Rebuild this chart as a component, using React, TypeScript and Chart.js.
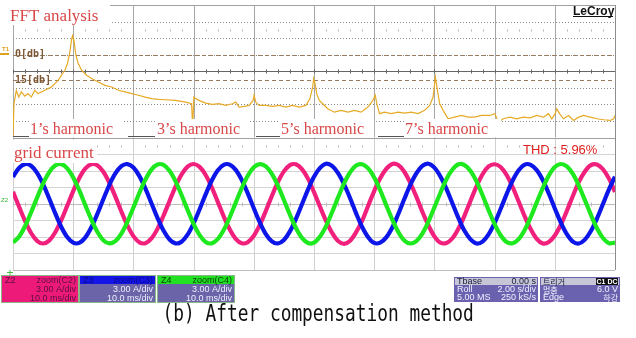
import React, { useEffect, useRef } from "react";
import { Chart, registerables } from "chart.js";
Chart.register(...registerables);

// ---- FFT trace (frequency in Hz, level in dB) ----
const fftFreq = [
  0, 1, 3.3, 5.7, 8.3, 11.7, 15, 18.3, 21.7, 25,
  28.3, 31.7, 35, 38.3, 41.7, 45, 48.3, 51.7, 54.3, 56.7,
  58.3, 59.3, 60.7, 62.7, 65, 68.3, 73.3, 78.3, 85, 91.7,
  98.3, 105, 111.7, 118.3, 125, 131.7, 138.3, 145, 152, 162,
  172, 178, 178.7, 179.3, 180.3, 182, 185.3, 192, 198.7, 205.3,
  212, 218.7, 222, 225.3, 230.3, 235.3, 239.3, 240.3, 242, 245.3,
  252, 258.7, 265.3, 272, 278.7, 285.3, 292, 296, 298.7, 299.7,
  301, 302.7, 305.3, 308.7, 313.7, 320.3, 327, 333.7, 340.3, 347,
  353.7, 358.7, 361, 363, 365.3, 370.3, 377, 383.7, 390.3, 397,
  403.7, 410.3, 415.3, 418.7, 421, 423, 425.3, 428.7, 433.7, 440.3,
  447, 453.7, 460.3, 467, 475.3, 480.3, 483.7, 488.7, 495.3, 502,
  508.7, 515.3, 522, 528.7, 533.7, 537, 540.3, 542, 544.7, 548.7,
  553.7, 558.7, 563.7, 568.7, 575.3, 582, 588.7, 595.3, 598.7, 600,
];
const fftDb = [
  -49.4, -29.6, -21.5, -25.6, -22.5, -25.0, -23.5, -25.6, -21.5, -23.5,
  -22.5, -21.5, -20.5, -19.5, -17.5, -15.5, -12.4, -9.4, -5.3, 1.7,
  8.8, 11.4, 8.8, -0.3, -5.3, -9.4, -12.4, -14.4, -16.5, -18.5,
  -19.5, -21.5, -22.5, -23.5, -24.5, -25.6, -26.5, -27.0, -27.2, -27.6,
  -28.6, -29.6, -38.7, -39.7, -25.6, -26.5, -27.6, -29.2, -30.0, -29.6,
  -30.6, -29.6, -28.6, -31.6, -31.2, -30.6, -27.6, -24.5, -28.6, -30.6,
  -30.6, -31.2, -30.6, -31.6, -30.6, -31.6, -30.6, -26.5, -19.5, -14.4,
  -17.5, -23.5, -27.6, -29.6, -32.6, -34.7, -33.6, -34.7, -33.6, -34.7,
  -31.6, -27.6, -24.5, -30.6, -35.6, -34.7, -35.6, -34.7, -35.3, -34.7,
  -35.6, -33.6, -30.6, -25.6, -13.5, -21.5, -29.6, -33.6, -38.7, -37.7,
  -36.7, -37.7, -37.7, -36.7, -36.7, -35.6, -40.7, -38.7, -37.7, -38.7,
  -37.7, -38.1, -36.7, -37.7, -35.6, -38.7, -35.6, -32.6, -35.6, -38.7,
  -36.7, -39.7, -37.7, -36.7, -37.7, -38.7, -39.3, -39.7, -38.7, -36.7,
];

// ---- grid current (time in ms, current in A) ----
const timeMs = [
  0, 1, 2, 3, 4, 5, 6, 7, 8, 9, 10, 11, 12, 13, 14, 15, 16, 17, 18, 19,
  20, 21, 22, 23, 24, 25, 26, 27, 28, 29, 30, 31, 32, 33, 34, 35, 36, 37, 38, 39,
  40, 41, 42, 43, 44, 45, 46, 47, 48, 49, 50, 51, 52, 53, 54, 55, 56, 57, 58, 59,
  60, 61, 62, 63, 64, 65, 66, 67, 68, 69, 70, 71, 72, 73, 74, 75, 76, 77, 78, 79,
  80, 81, 82, 83, 84, 85, 86, 87, 88, 89, 90, 91, 92, 93, 94, 95, 96, 97, 98, 99, 100,
];
const currentC2 = [
  2.17, -0.51, -3.12, -5.30, -6.71, -7.20, -6.67, -5.21, -3.01, -0.39,
  2.29, 4.63, 6.34, 7.15, 6.96, 5.79, 3.80, 1.29, -1.41, -3.91,
  -5.86, -6.99, -7.14, -6.28, -4.55, -2.17, 0.51, 3.12, 5.30, 6.71,
  7.20, 6.67, 5.21, 3.01, 0.39, -2.29, -4.63, -6.34, -7.15, -6.96,
  -5.79, -3.80, -1.29, 1.41, 3.91, 5.86, 6.99, 7.14, 6.28, 4.55,
  2.10, -0.55, -3.10, -5.25, -6.75, -7.25, -6.70, -5.15, -3.05, -0.35,
  2.30, 4.60, 6.30, 7.20, 7.00, 5.80, 3.75, 1.30, -1.45, -3.90,
  -5.90, -7.05, -7.10, -6.25, -4.50, -2.15, 0.55, 3.15, 5.35, 6.75,
  7.15, 6.65, 5.20, 3.00, 0.40, -2.30, -4.60, -6.35, -7.20, -6.95,
  -5.75, -3.80, -1.30, 1.40, 3.95, 5.85, 7.00, 7.10, 6.25, 4.55, 2.15,
];
const currentC3 = [
  4.86, 6.47, 7.18, 6.88, 5.60, 3.55, 0.99, -1.70, -4.16, -6.03,
  -7.06, -7.09, -6.13, -4.31, -1.88, 0.81, 3.39, 5.49, 6.82, 7.19,
  6.55, 5.00, 2.74, 0.09, -2.56, -4.86, -6.47, -7.18, -6.88, -5.60,
  -3.55, -0.99, 1.70, 4.16, 6.03, 7.06, 7.09, 6.13, 4.31, 1.88,
  -0.81, -3.39, -5.49, -6.82, -7.19, -6.55, -5.00, -2.74, -0.09, 2.56,
  4.90, 6.50, 7.25, 6.85, 5.55, 3.50, 1.00, -1.75, -4.20, -6.05,
  -7.10, -7.05, -6.10, -4.30, -1.85, 0.85, 3.40, 5.50, 6.85, 7.25,
  6.55, 4.95, 2.70, 0.05, -2.60, -4.90, -6.45, -7.20, -6.85, -5.55,
  -3.50, -0.95, 1.75, 4.20, 6.05, 7.10, 7.05, 6.10, 4.30, 1.85,
  -0.85, -3.40, -5.50, -6.85, -7.20, -6.50, -4.95, -2.70, -0.05, 2.60, 4.90,
];
const currentC4 = [
  -7.03, -5.96, -4.06, -1.58, 1.11, 3.65, 5.68, 6.91, 7.17, 6.42,
  4.77, 2.46, -0.21, -2.84, -5.08, -6.60, -7.19, -6.78, -5.41, -3.28,
  -0.69, 1.99, 4.40, 6.19, 7.11, 7.03, 5.96, 4.06, 1.58, -1.11,
  -3.65, -5.68, -6.91, -7.17, -6.42, -4.77, -2.46, 0.21, 2.84, 5.08,
  6.60, 7.19, 6.78, 5.41, 3.28, 0.69, -1.99, -4.40, -6.19, -7.11,
  -7.05, -5.95, -4.05, -1.55, 1.15, 3.70, 5.70, 6.95, 7.15, 6.40,
  4.75, 2.45, -0.25, -2.85, -5.10, -6.65, -7.20, -6.75, -5.40, -3.25,
  -0.65, 2.00, 4.45, 6.20, 7.15, 7.00, 5.95, 4.05, 1.55, -1.15,
  -3.70, -5.70, -6.95, -7.15, -6.40, -4.75, -2.45, 0.25, 2.85, 5.10,
  6.65, 7.20, 6.75, 5.40, 3.25, 0.65, -2.00, -4.45, -6.20, -7.15, -7.05,
];

const harmonicLabels = ["1\u2019s harmonic", "3\u2019s harmonic", "5\u2019s harmonic", "7\u2019s harmonic"];
const titleFft = "FFT analysis";
const titleCurrent = "grid current";
const thdText = "THD : 5.96%";
const captionText = "(b) After compensation method";

const W = 636;
const H = 338;

const gridPlugin = {
  id: "scopeGrid",
  beforeDatasetsDraw(chart: any) {
    const { ctx, chartArea: a, scales } = chart;
    const xT = scales.xT;
    const yF = scales.yF;
    const yI = scales.yI;
    const mid = yF.getPixelForValue(-50);
    const snap = (v: number) => Math.round(v) + 0.5;
    ctx.save();
    ctx.fillStyle = "#ffffff";
    ctx.fillRect(a.left, a.top, a.right - a.left, a.bottom - a.top);
    ctx.lineWidth = 1;
    for (let k = 0; k <= 10; k++) {
      const x = snap(xT.getPixelForValue(k * 10));
      ctx.strokeStyle = "#a6a6a6";
      ctx.beginPath(); ctx.moveTo(x, a.top); ctx.lineTo(x, mid); ctx.stroke();
      ctx.strokeStyle = "#d0d0d0";
      ctx.beginPath(); ctx.moveTo(x, mid); ctx.lineTo(x, a.bottom); ctx.stroke();
    }
    const divW = (xT.getPixelForValue(10) - xT.getPixelForValue(0)) / 5;
    for (let j = 1; j < 8; j++) {
      const y = snap(yF.getPixelForValue(30 - 10 * j));
      if (j === 4) {
        ctx.setLineDash([]);
        ctx.strokeStyle = "#666666";
        ctx.beginPath(); ctx.moveTo(a.left, y); ctx.lineTo(a.right, y); ctx.stroke();
        for (let m = 0; m <= 50; m++) {
          const x = snap(a.left + m * divW);
          ctx.beginPath(); ctx.moveTo(x, y - 2); ctx.lineTo(x, y + 2); ctx.stroke();
        }
      } else {
        ctx.setLineDash([1, 2]);
        ctx.strokeStyle = "#8a8a8a";
        ctx.beginPath(); ctx.moveTo(a.left, y); ctx.lineTo(a.right, y); ctx.stroke();
      }
    }
    ctx.setLineDash([]);
    ctx.strokeStyle = "#b5b5b5";
    [15, -55].forEach((v) => {
      const y = snap(yF.getPixelForValue(v));
      for (let m = 1; m < 50; m++) {
        if (m % 5 === 0) continue;
        const x = snap(a.left + m * divW);
        ctx.beginPath(); ctx.moveTo(x, y - 1); ctx.lineTo(x, y + 1); ctx.stroke();
      }
    });
    ctx.setLineDash([4, 3]);
    ctx.strokeStyle = "#9a7a5c";
    [0, -15].forEach((v) => {
      const y = snap(yF.getPixelForValue(v));
      ctx.beginPath(); ctx.moveTo(a.left, y); ctx.lineTo(a.right, y); ctx.stroke();
    });
    ctx.setLineDash([]);
    for (let j = 1; j < 8; j++) {
      const y = snap(yI.getPixelForValue(12 - 3 * j));
      ctx.strokeStyle = j === 4 ? "#bdbdbd" : "#d4d4d4";
      ctx.beginPath(); ctx.moveTo(a.left, y); ctx.lineTo(a.right, y); ctx.stroke();
      if (j === 4) {
        for (let m = 0; m <= 50; m++) {
          const x = snap(a.left + m * divW);
          ctx.beginPath(); ctx.moveTo(x, y - 2); ctx.lineTo(x, y + 2); ctx.stroke();
        }
      }
    }
    ctx.strokeStyle = "#a0a0a0";
    const yt = snap(a.top), yb = snap(a.bottom), ym = snap(mid);
    ctx.beginPath(); ctx.moveTo(a.left, yt); ctx.lineTo(a.right, yt); ctx.stroke();
    ctx.beginPath(); ctx.moveTo(a.left, ym); ctx.lineTo(a.right, ym); ctx.stroke();
    ctx.strokeStyle = "#bdbdbd";
    ctx.beginPath(); ctx.moveTo(a.left, yb); ctx.lineTo(a.right, yb); ctx.stroke();
    ctx.strokeStyle = "#8c8c8c";
    const xr = snap(a.right);
    ctx.beginPath(); ctx.moveTo(xr, a.top); ctx.lineTo(xr, a.bottom); ctx.stroke();
    ctx.restore();
  },
};

function drawText(ctx: CanvasRenderingContext2D, s: string, x: number, y: number, font: string, color: string, align: CanvasTextAlign = "left") {
  ctx.font = font;
  ctx.fillStyle = color;
  ctx.textAlign = align;
  ctx.textBaseline = "alphabetic";
  ctx.fillText(s, x, y);
}

const decoPlugin = {
  id: "scopeDeco",
  afterDatasetsDraw(chart: any) {
    const ctx: CanvasRenderingContext2D = chart.ctx;
    const serif = '"Liberation Serif", "Times New Roman", serif';
    const sans = '"Liberation Sans", Arial, sans-serif';
    const red = "#d94848";
    ctx.save();
    ctx.fillStyle = "#ffffff";
    ctx.fillRect(8, 3, 102, 22);
    drawText(ctx, titleFft, 10, 21, `17px ${serif}`, red);
    drawText(ctx, "0[db]", 15, 57, 'bold 10px "DejaVu Sans Mono", monospace', "#7b5532");
    drawText(ctx, "15[db]", 15, 83, 'bold 10px "DejaVu Sans Mono", monospace', "#7b5532");
    ctx.fillStyle = "#e0a020";
    ctx.fillRect(0, 53, 9, 2);
    drawText(ctx, "T1", 2, 51, `bold 6px ${sans}`, "#e0a020");
    const lineX = [[13, 29], [128, 155], [256, 280], [378, 404]];
    const textX = [30, 157, 281, 405];
    harmonicLabels.forEach((s, i) => {
      ctx.font = `16px ${serif}`;
      const w = ctx.measureText(s).width;
      ctx.fillStyle = "#ffffff";
      ctx.fillRect(textX[i] - 1, 119, w + (i === 3 ? 14 : 11), 18);
      ctx.strokeStyle = "#555555";
      ctx.lineWidth = 1;
      ctx.beginPath(); ctx.moveTo(lineX[i][0], 136.5); ctx.lineTo(lineX[i][1], 136.5); ctx.stroke();
      drawText(ctx, s, textX[i], 134, `16px ${serif}`, red);
    });
    ctx.fillStyle = "#ffffff";
    ctx.fillRect(8, 140, 89, 23);
    drawText(ctx, titleCurrent, 14, 158, `17px ${serif}`, red);
    drawText(ctx, thdText, 523, 154, `13px ${sans}`, "#e02020");
    drawText(ctx, "LeCroy", 573, 15, `bold 12px ${sans}`, "#111111");
    ctx.fillStyle = "#111111";
    ctx.fillRect(573, 16, 40, 1);
    drawText(ctx, "Z2", 1, 202, `6px ${sans}`, "#30b030");
    ctx.fillStyle = "#40c040";
    ctx.fillRect(7, 272, 6, 1);
    ctx.fillRect(9.5, 270, 1, 5);

    const f9 = `9px ${sans}`;
    const box = (x: number, w: number, head: string, headTxt: string, body: string, bodyTxt: string, l: string, r: string, a2: string, a3: string) => {
      ctx.fillStyle = "#88b888";
      ctx.fillRect(x - 1, 275, w + 2, 28);
      ctx.fillStyle = head;
      ctx.fillRect(x, 276, w, 8);
      ctx.fillStyle = body;
      ctx.fillRect(x, 284, w, 18);
      drawText(ctx, l, x + 3, 283, f9, headTxt);
      drawText(ctx, r, x + w - 2, 283, f9, headTxt, "right");
      drawText(ctx, a2, x + w - 2, 292, f9, bodyTxt, "right");
      drawText(ctx, a3, x + w - 2, 301, f9, bodyTxt, "right");
    };
    box(2, 76, "#ee1a7a", "#5a1040", "#ee1a7a", "#5a1040", "Z2", "zoom(C2)", "3.00 A/div", "10.0 ms/div");
    box(80, 75, "#1414e6", "#0a0a8a", "#6c64a8", "#eeeeff", "Z3", "zoom(C3)", "3.00 A/div", "10.0 ms/div");
    box(158, 76, "#22e022", "#0a400a", "#6c64a8", "#eeeeff", "Z4", "zoom(C4)", "3.00 A/div", "10.0 ms/div");

    ctx.fillStyle = "#6a62ae";
    ctx.fillRect(454, 277, 84, 25);
    ctx.fillStyle = "#c6c6d6";
    ctx.fillRect(455, 278, 82, 7);
    drawText(ctx, "Tbase", 457, 284, f9, "#202040");
    drawText(ctx, "0.00 s", 536, 284, f9, "#202040", "right");
    drawText(ctx, "Roll", 457, 292, f9, "#f0f0ff");
    drawText(ctx, "2.00 s/div", 536, 292, f9, "#f0f0ff", "right");
    drawText(ctx, "5.00 MS", 457, 300, f9, "#f0f0ff");
    drawText(ctx, "250 kS/s", 536, 300, f9, "#f0f0ff", "right");
    const kr = '"Noto Sans CJK KR", sans-serif';
    ctx.fillStyle = "#6a62ae";
    ctx.fillRect(540, 277, 80, 25);
    ctx.fillStyle = "#c6c6d6";
    ctx.fillRect(541, 278, 78, 7);
    drawText(ctx, "\ud2b8\ub9ac\uac70", 543, 284.5, `8px ${kr}`, "#202040");
    ctx.fillStyle = "#111111";
    ctx.fillRect(596, 278, 22, 7);
    drawText(ctx, "C1 DC", 607, 284, `bold 7px ${sans}`, "#ffffff", "center");
    drawText(ctx, "\uba48\ucda4", 543, 293, `8px ${kr}`, "#f0f0ff");
    drawText(ctx, "6.0 V", 618, 292, f9, "#f0f0ff", "right");
    drawText(ctx, "Edge", 543, 300, f9, "#f0f0ff");
    drawText(ctx, "\ud558\uac15", 618, 301, `8px ${kr}`, "#f0f0ff", "right");
    ctx.restore();
  },
};

export default function App() {
  const ref = useRef<HTMLCanvasElement>(null);
  useEffect(() => {
    const canvas = ref.current;
    if (!canvas) return;
    const fftPoints = fftFreq.map((f, i) => ({ x: f, y: fftDb[i] }));
    const series = (vals: number[]) => timeMs.map((t, i) => ({ x: t, y: vals[i] }));
    const phase = (label: string, vals: number[], color: string) => ({
      label,
      data: series(vals),
      xAxisID: "xT",
      yAxisID: "yI",
      borderColor: color,
      borderWidth: 4.2,
      pointRadius: 0,
      tension: 0.35,
      fill: false,
    });
    const chart = new Chart(canvas, {
      type: "line",
      data: {
        datasets: [
          phase("C4", currentC4, "#1ee81e"),
          phase("C3", currentC3, "#0c16e8"),
          phase("C2", currentC2, "#f0207c"),
          {
            label: "FFT",
            data: fftPoints,
            xAxisID: "xF",
            yAxisID: "yF",
            borderColor: "#e6aa26",
            borderWidth: 1.2,
            pointRadius: 0,
            tension: 0,
            fill: false,
          } as any,
        ],
      },
      options: {
        responsive: false,
        animation: false,
        layout: { padding: { left: 13, top: 5, right: 21, bottom: 68 } },
        plugins: { legend: { display: false }, tooltip: { enabled: false } },
        scales: {
          xF: { type: "linear", axis: "x", min: 0, max: 600, display: false },
          xT: { type: "linear", axis: "x", min: 0, max: 100, display: false },
          yF: { type: "linear", axis: "y", min: -130, max: 30, display: false },
          yI: { type: "linear", axis: "y", min: -12, max: 36, display: false },
        } as any,
      },
      plugins: [gridPlugin, decoPlugin],
    });
    return () => chart.destroy();
  }, []);
  return (
    <div style={{ position: "absolute", left: 0, top: 0, width: W, height: H, background: "#ffffff", overflow: "hidden" }}>
      <canvas ref={ref} width={W} height={H} style={{ display: "block", width: W, height: H }} />
      <div
        style={{
          position: "absolute",
          left: 0,
          top: 302,
          width: W,
          textAlign: "center",
          fontFamily: '"DejaVu Sans Mono", monospace',
          fontSize: 23,
          lineHeight: "23px",
          color: "#111111",
          transform: "scaleX(0.775)",
          transformOrigin: "319px 0",
          whiteSpace: "nowrap",
        }}
      >
        {captionText}
      </div>
    </div>
  );
}
